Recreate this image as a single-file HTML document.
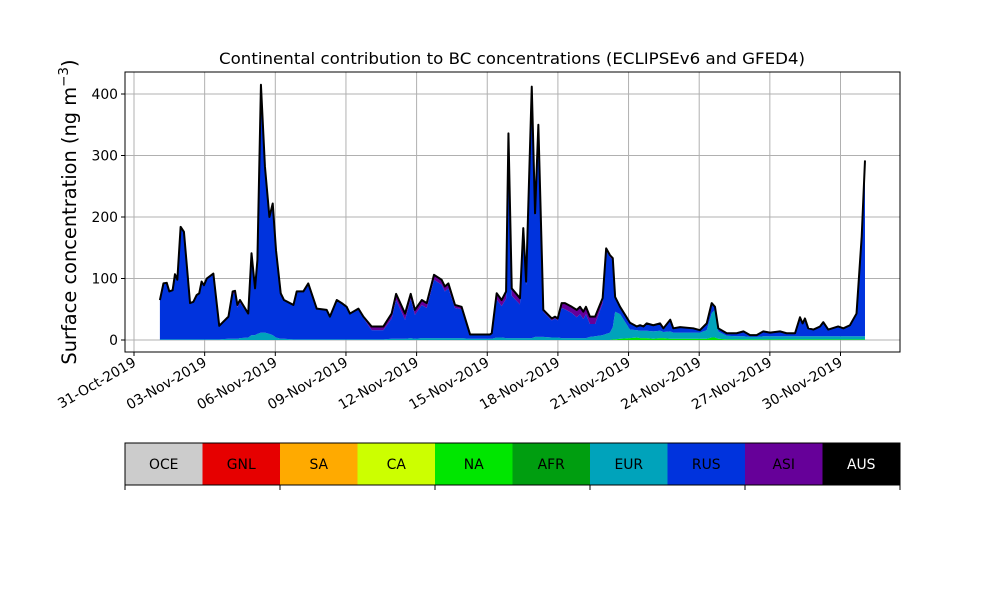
<!DOCTYPE html>
<html><head><meta charset="utf-8"><style>
body{margin:0;background:#fff;}
svg{font-family:"DejaVu Sans","Liberation Sans",sans-serif;}
</style></head><body>
<svg id="chart" width="1000" height="600" xmlns="http://www.w3.org/2000/svg">
<text x="512" y="64" text-anchor="middle" font-size="16" textLength="586" lengthAdjust="spacingAndGlyphs">Continental contribution to BC concentrations (ECLIPSEv6 and GFED4)</text>
<text transform="translate(76,212) rotate(-90)" text-anchor="middle" font-size="19.4">Surface concentration (ng m<tspan font-size="13.5" dy="-8">−3</tspan><tspan dy="8">)</tspan></text>
<g id="grid"></g><g id="areas"></g><g id="axes"></g><g id="cbar"></g>
</svg>
<script>
const days=[1.10,1.25,1.39,1.50,1.64,1.74,1.84,1.98,2.12,2.38,2.52,2.66,2.77,2.87,2.97,3.09,3.37,3.62,4.01,4.19,4.29,4.39,4.50,4.85,4.99,5.14,5.24,5.39,5.56,5.75,5.89,6.03,6.23,6.37,6.77,6.91,7.19,7.40,7.76,8.18,8.32,8.61,8.82,9.03,9.17,9.53,9.74,10.09,10.59,10.94,11.13,11.51,11.75,11.93,12.22,12.43,12.74,13.06,13.20,13.35,13.63,13.91,14.27,15.12,15.19,15.40,15.61,15.80,15.90,16.04,16.39,16.53,16.65,16.89,17.03,17.17,17.38,17.74,17.88,17.99,18.16,18.30,18.59,18.80,18.94,19.08,19.19,19.36,19.58,19.90,20.05,20.21,20.33,20.43,20.64,21.06,21.35,21.49,21.63,21.77,22.05,22.34,22.48,22.77,22.90,23.19,23.75,24.03,24.32,24.53,24.67,24.81,25.17,25.59,25.88,26.16,26.44,26.72,27.01,27.43,27.71,28.07,28.28,28.39,28.49,28.63,28.85,29.13,29.27,29.48,29.90,30.12,30.40,30.68,30.90,31.04];
const total=[65,92,93,79,81,107,98,184,176,60,62,73,76,95,89,100,108,23,38,79,80,57,65,43,141,84,130,415,282,200,222,146,76,65,57,79,79,92,51,49,38,65,60,54,43,51,38,22,22,43,75,43,75,49,65,60,106,98,87,92,57,54,9,9,11,76,65,79,336,84,68,182,95,412,206,350,49,35,38,35,60,60,54,49,54,46,54,38,38,68,149,138,133,70,54,28,22,24,22,27,24,27,19,33,19,21,19,16,27,60,54,19,11,11,14,8,8,14,12,14,11,11,37,27,35,19,17,22,29,17,22,19,24,43,168,292];
const asi=[0,0,0,0,0,0,0,0,0,0,0,0,0,0,0,0,0,0,1,4,4,4,4,2,2,2,2,2,2,2,2,2,1,1,1,1,1,1,1,1,1,1,1,1,1,1,2,6,6,8,10,10,8,8,8,8,8,8,8,8,5,4,1,1,1,10,10,12,10,12,10,6,6,4,4,4,3,3,3,3,8,10,10,12,12,12,12,12,12,8,3,3,3,1,1,0,0,0,0,0,0,0,0,0,0,0,0,0,0,0,0,0,0,0,0,0,0,0,0,0,0,0,0,0,0,0,0,0,0,0,0,0,0,0,0,0];
const eur=[1,1,1,1,1,1,1,1,1,1,1,1,1,1,1,1,1,1,2,2,2,2,3,4,8,8,10,12,12,10,8,4,2,2,1,1,1,1,1,1,1,1,1,1,1,1,1,1,1,2,2,2,3,2,3,3,3,3,3,3,3,3,2,2,2,4,4,3,3,3,3,3,3,3,5,5,5,4,4,4,3,3,3,3,3,3,3,5,6,8,10,12,20,45,40,14,12,12,12,12,12,12,10,12,10,10,10,10,14,40,45,12,6,5,5,4,4,5,5,5,5,5,5,5,5,5,5,5,5,5,5,5,5,5,5,5];
const na=[0,0,0,0,0,0,0,0,0,0,0,0,0,0,0,0,0,0,0,0,0,0,0,0,0,0,0,0,0,0,0,0,0,0,0,0,0,0,0,0,0,0,0,0,0,0,0,0,0,0,0,0,0,0,0,0,0,0,0,0,0,0,0,0,0,0,0,0,0,0,0,0,0,0,0,0,0,0,0,0,0,0,0,0,0,0,0,0,0,0,0,0,1,1,2,3,4,3,3,3,2,3,3,2,2,2,2,2,2,4,4,2,1,1,1,1,1,1,1,1,1,1,1,1,1,1,1,1,1,1,1,1,1,1,1,1];
const yTicks=[0,100,200,300,400];
const xTickDays=[0,3,6,9,12,15,18,21,24,27,30];
const xTickLabels=["31-Oct-2019","03-Nov-2019","06-Nov-2019","09-Nov-2019","12-Nov-2019","15-Nov-2019","18-Nov-2019","21-Nov-2019","24-Nov-2019","27-Nov-2019","30-Nov-2019"];
const regions=["OCE","GNL","SA","CA","NA","AFR","EUR","RUS","ASI","AUS"];
const regionColors=["#cccccc","#e60000","#ffaa00","#ccff00","#00e600","#009e10","#00a3bb","#0033dd","#660099","#000000"];

const NS="http://www.w3.org/2000/svg";
const L=125,R=900,T=72,B=352;
const X=d=>134+d*23.55;
const Y=v=>340-v*0.615;
function mk(tag,attrs,parent){const e=document.createElementNS(NS,tag);for(const k in attrs)e.setAttribute(k,attrs[k]);parent.appendChild(e);return e;}
const grid=document.getElementById('grid'),areas=document.getElementById('areas'),axes=document.getElementById('axes'),cbar=document.getElementById('cbar');

yTicks.forEach(v=>{
  const g=mk('line',{x1:L,x2:R,y1:Y(v),y2:Y(v),stroke:'#b0b0b0','stroke-width':1},grid);
  
  
  const t=mk('line',{x1:L-4,x2:L,y1:Y(v),y2:Y(v),stroke:'#000'},axes);
  
  
  const tx=mk('text',{x:L-7,y:Y(v)+5,'text-anchor':'end','font-size':13.9},axes);
  tx.textContent=v;
  
  
});
xTickDays.forEach((d,i)=>{
  const x=X(d);
  const g=mk('line',{x1:x,x2:x,y1:T,y2:B,stroke:'#b0b0b0','stroke-width':1},grid);
  
  
  const t=mk('line',{x1:x,x2:x,y1:B,y2:B+4,stroke:'#000'},axes);
  
  
  const tx=mk('text',{x:0,y:0,'text-anchor':'end','font-size':13.9,transform:`translate(${x+3},${B+13}) rotate(-30)`},axes);
  tx.textContent=xTickLabels[i];
  
  
});

function band(lo,hi,color,name){
  let d='M'+days.map((t,i)=>X(t)+','+Y(hi[i])).join(' L');
  for(let i=days.length-1;i>=0;i--)d+=' L'+X(days[i])+','+Y(lo[i]);
  const p=mk('path',{d:d+'Z',fill:color,stroke:'none'},areas);
  
  
}
const zero=days.map(()=>0);
const s1=na.slice();
const s2=s1.map((v,i)=>v+eur[i]);
const s3=total.map((v,i)=>Math.max(s2[i],v-asi[i]));
const s4=total.slice();
band(zero,s1,'#00e600','area-na');
band(s1,s2,'#00a3bb','area-eur');
band(s2,s3,'#0033dd','area-rus');
band(s3,s4,'#660099','area-asi');
const line=mk('path',{d:'M'+days.map((t,i)=>X(t)+','+Y(total[i])).join(' L'),fill:'none',stroke:'#000','stroke-width':2,'stroke-linejoin':'round'},areas);


const frame=mk('rect',{x:L,y:T,width:R-L,height:B-T,fill:'none',stroke:'#000','stroke-width':1},axes);



const w=(R-L)/regions.length;
regions.forEach((r,i)=>{
  const rc=mk('rect',{x:L+i*w,y:443,width:w,height:42,fill:regionColors[i]},cbar);
  
  
  const tx=mk('text',{x:L+i*w+w/2,y:469,'text-anchor':'middle','font-size':13.9,fill:r==='AUS'?'#fff':'#000'},cbar);
  tx.textContent=r;
  
  
});
const cf=mk('rect',{x:L,y:443,width:R-L,height:42,fill:'none',stroke:'#000'},cbar);


for(let k=0;k<=5;k++){
  const t=mk('line',{x1:L+k*155,x2:L+k*155,y1:485,y2:490,stroke:'#000'},cbar);
  
  
}
</script>
</body></html>
